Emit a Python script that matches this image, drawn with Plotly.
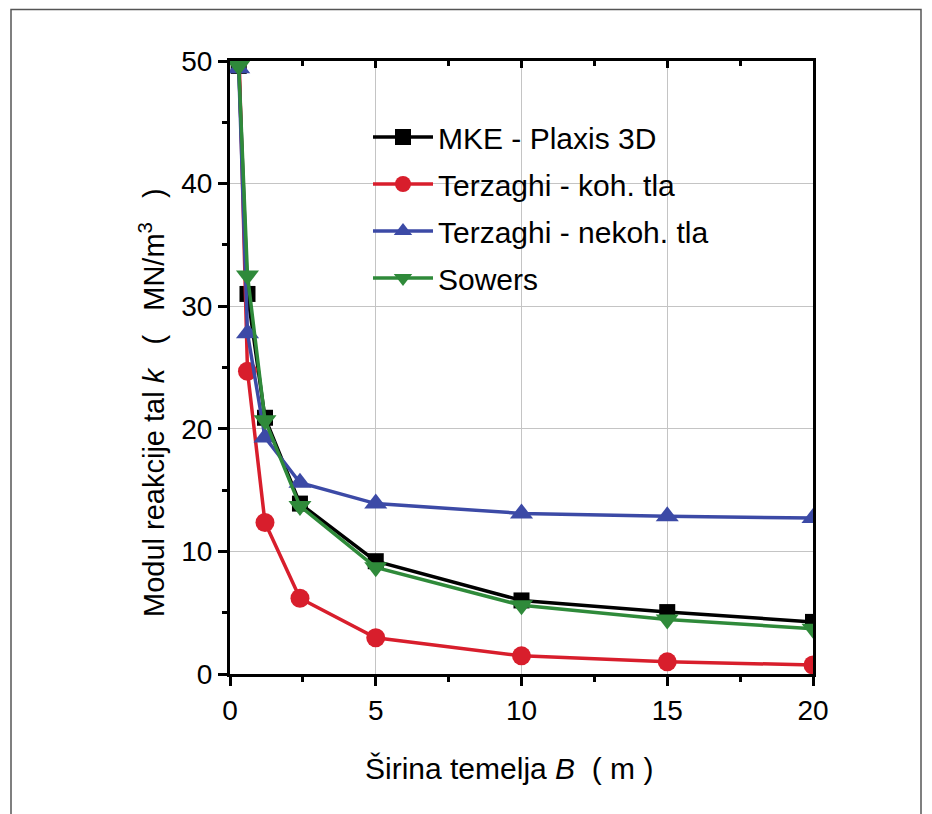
import plotly.graph_objects as go

B = [0.3, 0.6, 1.2, 2.4, 5, 10, 15, 20]
mke = [49.6, 31.0, 20.9, 13.9, 9.2, 6.0, 5.05, 4.25]
terz_koh = [51.5, 24.7, 12.35, 6.18, 2.96, 1.48, 0.99, 0.74]
terz_nekoh = [49.4, 27.8, 19.3, 15.6, 13.9, 13.1, 12.86, 12.72]
sowers = [49.6, 32.5, 20.7, 13.7, 8.7, 5.6, 4.45, 3.7]

names = ["MKE - Plaxis 3D", "Terzaghi - koh. tla", "Terzaghi - nekoh. tla", "Sowers"]
series = [mke, terz_koh, terz_nekoh, sowers]
colors = ["#000000", "#d81e2c", "#3c4aa6", "#2f8a3a"]
symbols = ["square", "circle", "triangle-up", "triangle-down"]
sizes = [16, 19, 20, 20]
xaxes = ["x", "x", "x", "x2"]

FONT = "Liberation Sans, Arial, Helvetica, sans-serif"

fig = go.Figure()
for n, ys, c, s, sz, xa in zip(names, series, colors, symbols, sizes, xaxes):
    fig.add_trace(go.Scatter(
        x=B, y=ys, name=n, mode="lines+markers",
        line=dict(color=c, width=3.5),
        marker=dict(symbol=s, size=sz, color=c, line=dict(width=0)),
        legendgroup=n, cliponaxis=True, xaxis=xa, yaxis="y",
    ))

W, H = 932, 814
L, R, T, Bm = 230, 119, 61, 140
pw, ph = W - L - R, H - T - Bm

def px(xp):
    return (xp - L) / pw

def py(yp):
    return (H - Bm - yp) / ph

fig.update_layout(
    width=W, height=H,
    margin=dict(l=L, r=R, t=T, b=Bm, pad=0),
    paper_bgcolor="white", plot_bgcolor="white",
    font=dict(family=FONT, color="black", size=28),
    showlegend=True,
    legend=dict(
        x=px(368), y=py(111), xanchor="left", yanchor="top",
        bgcolor="rgba(0,0,0,0)", borderwidth=0,
        font=dict(size=30, family=FONT),
        traceorder="grouped", tracegroupgap=5,
        itemwidth=60,
    ),
    xaxis=dict(
        range=[0, 20], tickmode="linear", tick0=0, dtick=5,
        ticks="outside", ticklen=9, tickwidth=2.5, tickcolor="black",
        minor=dict(dtick=2.5, ticks="outside", ticklen=5, tickwidth=2.5, tickcolor="black", showgrid=False),
        showline=True, linewidth=3, linecolor="black", mirror=True,
        showgrid=True, gridcolor="#c4c4c4", gridwidth=1.2,
        zeroline=False, tickfont=dict(size=28, family=FONT),
    ),
    yaxis=dict(
        range=[0, 50], tickmode="linear", tick0=0, dtick=10,
        ticks="outside", ticklen=9, tickwidth=2.5, tickcolor="black",
        minor=dict(dtick=5, ticks="outside", ticklen=5, tickwidth=2.5, tickcolor="black", showgrid=False),
        showline=True, linewidth=3, linecolor="black", mirror=True,
        showgrid=True, gridcolor="#c4c4c4", gridwidth=1.2,
        zeroline=False, tickfont=dict(size=28, family=FONT),
    ),
    xaxis2=dict(
        overlaying="x", matches="x", anchor="y", side="top",
        range=[0, 20], tickmode="linear", tick0=0, dtick=5,
        ticks="inside", ticklen=7, tickwidth=2.5, tickcolor="black",
        minor=dict(dtick=2.5, ticks="inside", ticklen=5, tickwidth=2.5, tickcolor="black", showgrid=False),
        showticklabels=False, showgrid=False, showline=False, zeroline=False,
    ),
    shapes=[
        dict(type="rect", xref="paper", yref="paper",
             x0=px(310), x1=px(775), y0=py(321), y1=py(97),
             fillcolor="white", line=dict(width=0), layer="between"),
        dict(type="rect", xref="paper", yref="paper",
             x0=px(11), x1=px(921), y0=py(840), y1=py(9.5),
             fillcolor="rgba(0,0,0,0)", line=dict(color="#555555", width=1.5), layer="above"),
    ],
    annotations=[
        dict(text="Širina temelja <i>B</i>  ( m )", xref="paper", yref="paper",
             x=px(509), y=py(768), xanchor="center", yanchor="middle",
             showarrow=False, font=dict(size=30, family=FONT)),
        dict(text="Modul reakcije tal <i>k</i>   (   MN/m<sup>3</sup>   )", xref="paper", yref="paper",
             x=px(152), y=py(403), xanchor="center", yanchor="middle", textangle=-90,
             showarrow=False, font=dict(size=29, family=FONT)),
    ],
)

fig.write_html("out.html", config={"displayModeBar": False},
               post_script="document.body.style.margin='0';document.body.style.overflow='hidden';")
